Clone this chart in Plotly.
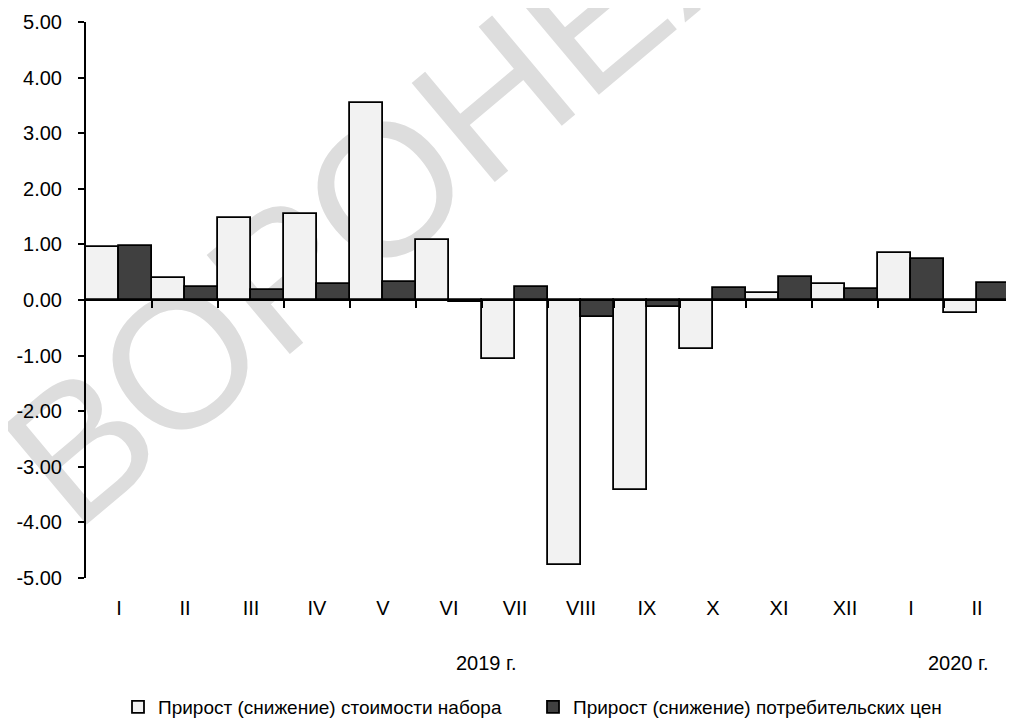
import plotly.graph_objects as go

months = ["I", "II", "III", "IV", "V", "VI", "VII", "VIII", "IX", "X", "XI", "XII", "I", "II"]
set_cost = [0.96, 0.39, 1.47, 1.54, 3.55, 1.08, -1.07, -4.77, -3.42, -0.89, 0.13, 0.28, 0.84, -0.24]
cpi = [0.98, 0.24, 0.18, 0.28, 0.32, -0.04, 0.24, -0.30, -0.13, 0.21, 0.41, 0.19, 0.74, 0.31]
name_set = "Прирост (снижение) стоимости набора"
name_cpi = "Прирост (снижение) потребительских цен"
yticks = [-5, -4, -3, -2, -1, 0, 1, 2, 3, 4, 5]

FONT = "Liberation Sans, Arial, sans-serif"
xpos = list(range(len(months)))

# page has an 8px body margin: plot area target is x 86..1010, y 22..578 in the window
PW, PH = 924, 556

fig = go.Figure()
fig.add_trace(go.Bar(x=xpos, y=set_cost, name=name_set,
                     marker=dict(color="#f2f2f2", line=dict(color="black", width=1.8))))
fig.add_trace(go.Bar(x=xpos, y=cpi, name=name_cpi,
                     marker=dict(color="#404040", line=dict(color="black", width=1.8))))

# zero line axis with boundary ticks
fig.add_trace(go.Scatter(x=[-0.5, 13.5], y=[0, 0], xaxis="x2", mode="lines",
                         line=dict(color="rgba(0,0,0,0)"), showlegend=False, hoverinfo="skip"))

fig.update_layout(
    width=1006, height=715,
    margin=dict(l=78, r=4, t=14, b=145, autoexpand=False),
    paper_bgcolor="white", plot_bgcolor="white",
    barmode="group", bargap=0, bargroupgap=0,
    font=dict(family=FONT, size=20, color="black"),
    xaxis=dict(range=[-0.5, 13.5], tickvals=xpos, ticktext=months, showline=False,
               ticks="", showgrid=False, zeroline=False, ticklabelstandoff=16,
               tickfont=dict(size=20)),
    xaxis2=dict(range=[-0.5, 13.5], overlaying="x", anchor="free", position=0.5,
                side="bottom", showline=True, linecolor="black", linewidth=2,
                tickvals=[i + 0.5 for i in range(14)], ticks="outside", ticklen=7,
                tickwidth=1.5, tickcolor="black", showticklabels=False, showgrid=False,
                zeroline=False),
    yaxis=dict(range=[-5, 5], tickvals=yticks, ticktext=[f"{v:.2f}" for v in yticks],
               showline=True, linecolor="black", linewidth=2, ticks="outside", ticklen=6,
               tickwidth=1.5, tickcolor="black", showgrid=False, zeroline=False,
               ticklabelstandoff=12, tickfont=dict(size=20)),
    legend=dict(orientation="h", x=(118 - 86) / PW, xanchor="left", y=-(707 - 578) / PH,
                yanchor="middle", font=dict(size=19), itemclick=False, traceorder="normal",
                entrywidth=370, entrywidthmode="pixels"),
    annotations=[
        dict(text="2019 г.", x=5.56, y=-(663 - 578) / PH, xref="x", yref="paper",
             yanchor="middle", showarrow=False, font=dict(size=20)),
        dict(text="2020 г.", x=12.71, y=-(663 - 578) / PH, xref="x", yref="paper",
             yanchor="middle", showarrow=False, font=dict(size=20)),
    ],
    shapes=[
        dict(type="rect", xref="paper", yref="paper",
             x0=(392 - 86) / PW - 0.05, x1=(392 - 86) / PW + 0.05,
             y0=(578 - 160) / PH - 0.05, y1=(578 - 160) / PH + 0.05,
             line=dict(width=0), fillcolor="rgba(0,0,0,0)", layer="below",
             label=dict(text="ВОРОНЕЖ", textposition="middle center", textangle=-40,
                        font=dict(size=188, color="#dddddd", family=FONT))),
    ],
)

fig.write_html("out.html")
